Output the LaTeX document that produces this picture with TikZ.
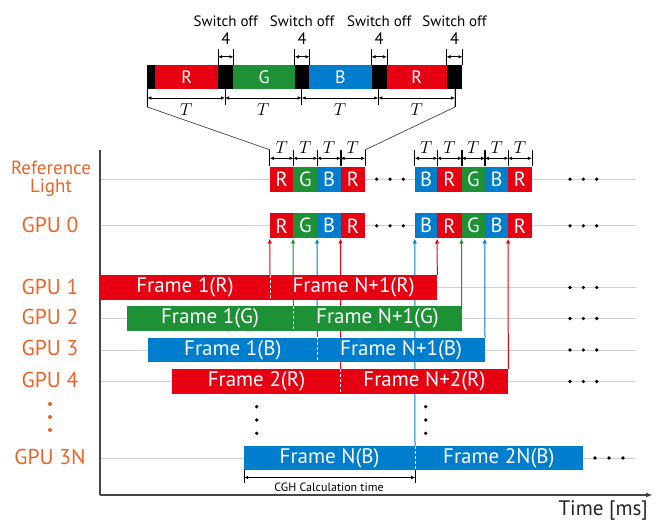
\documentclass[tikz,border=0pt]{standalone}
\usepackage{fontspec}
\setmainfont{PT Sans}
\usetikzlibrary{arrows.meta,calc}
\definecolor{cR}{RGB}{230,0,18}
\definecolor{cG}{RGB}{30,145,55}
\definecolor{cB}{RGB}{0,125,205}
\definecolor{cO}{RGB}{232,100,40}
\definecolor{cGray}{RGB}{208,208,208}
\definecolor{cAx}{RGB}{70,70,70}
\tikzset{
 lbl/.style={text=cO, font=\fontsize{21.5}{23}\selectfont, inner sep=0},
 fbar/.style={font=\fontsize{21}{23}\selectfont},
 fstrip/.style={font=\fontsize{18}{20}\selectfont},
 fcell/.style={font=\fontsize{20.5}{22}\selectfont},
 fsw/.style={font=\fontsize{15}{17}\selectfont, inner sep=0},
 ffour/.style={font=\fontsize{16.5}{18}\selectfont, inner sep=0},
 ft/.style={font=\fontsize{16}{18}\selectfont, inner sep=0},
 cell/.style={text=white, inner sep=0},
 gridl/.style={draw=cGray, line width=0.8pt},
 dimarr/.style={{Latex[length=4pt,width=3.5pt]}-{Latex[length=4pt,width=3.5pt]}, line width=0.7pt},
 tickl/.style={line width=0.7pt},
 uparr/.style={-{Latex[length=5pt,width=4.5pt]}, line width=1pt},
 divd/.style={white, dash pattern=on 3pt off 2pt, line width=1pt},
 dotn/.style={fill=black, circle, inner sep=0, minimum size=3.6pt},
 odot/.style={fill=cO, circle, inner sep=0, minimum size=4pt},
}
\newcommand\cellbox[8]{\node[cell, fill=#6, #7, minimum width={#3pt-#2pt}, minimum height={#5pt-#4pt}] (#1) at ({(#2+#3)/2},{(#4+#5)/2}) {#8};}
\begin{document}
\begin{tikzpicture}[x=1pt,y=-1pt]
\useasboundingbox (0,0) rectangle (659,521);
% grid lines
\foreach \yy/\nm in {179.2/gr0,225.8/gr1,287.5/gr2,318.5/gr3,350/gr4,381.5/gr5,458/gr6}{
  \coordinate (\nm a) at (100,\yy); \coordinate (\nm b) at (636,\yy);
  \draw[gridl] (\nm a) -- (\nm b);
}
% axes
\coordinate (ax0) at (100,150);
\coordinate (ax1) at (100,495);
\coordinate (ax2) at (653,495);
\draw[cAx, line width=1.4pt] (ax0) -- (ax1);
\draw[cAx, line width=1.4pt, -{Latex[length=7pt,width=5pt]}] (ax1) -- (ax2);
\node[anchor=base east, font=\fontsize{21}{23}\selectfont, text=black!85, inner sep=0] (tlab) at (648,515.5) {Time [ms]};
% top strip
\cellbox{s0}{147.3}{155}{65}{89}{black}{fstrip}{}
\cellbox{s1}{155}{218.3}{65}{89}{cR}{fstrip}{R}
\cellbox{k1}{218.3}{233.3}{65}{89}{black}{fstrip}{}
\cellbox{s2}{233.3}{295}{65}{89}{cG}{fstrip}{G}
\cellbox{k2}{295}{309.3}{65}{89}{black}{fstrip}{}
\cellbox{s3}{309.3}{371.7}{65}{89}{cB}{fstrip}{B}
\cellbox{k3}{371.7}{386.7}{65}{89}{black}{fstrip}{}
\cellbox{s4}{386.7}{446.7}{65}{89}{cR}{fstrip}{R}
\cellbox{k4}{446.7}{462.3}{65}{89}{black}{fstrip}{}
\foreach \k in {k1,k2,k3,k4}{
  \draw[tickl] (\k.north west) -- ++(0,-16);
  \draw[tickl] (\k.north east) -- ++(0,-16);
  \draw[dimarr] ([yshift=8pt]\k.north west) -- ([yshift=8pt]\k.north east);
  \node[ffour] (four\k) at ([yshift=26pt]\k.north) {4};
  \node[fsw] (sw\k) at ([yshift=44pt]\k.north) {Switch off};
}
% top T dims
\coordinate (ta) at (147.3,89);
\coordinate (tb) at (225,89);
\coordinate (tc) at (301.7,89);
\coordinate (td) at (378.3,89);
\coordinate (te) at (455,89);
\foreach \c in {tb,tc,td}{\draw[tickl] (\c) -- ++(0,16);}
\foreach \a/\b in {ta/tb,tb/tc,tc/td,td/te}{
  \draw[dimarr] ($(\a)+(0,9)$) -- ($(\b)+(0,9)$);
  \node[ft] (T\a) at ($(\a)!0.5!(\b)+(0,21)$) {$T$};
}
% reference light boxes
\cellbox{ra}{270}{293.3}{166.7}{191.7}{cR}{fcell}{R}
\cellbox{rb}{293.3}{317.3}{166.7}{191.7}{cG}{fcell}{G}
\cellbox{rc}{317.3}{340.7}{166.7}{191.7}{cB}{fcell}{B}
\cellbox{rd}{340.7}{365}{166.7}{191.7}{cR}{fcell}{R}
\cellbox{re}{415}{437.3}{166.7}{191.7}{cB}{fcell}{B}
\cellbox{rf}{437.3}{461.7}{166.7}{191.7}{cR}{fcell}{R}
\cellbox{rg}{461.7}{485}{166.7}{191.7}{cG}{fcell}{G}
\cellbox{rh}{485}{508.3}{166.7}{191.7}{cB}{fcell}{B}
\cellbox{ri}{508.3}{531.7}{166.7}{191.7}{cR}{fcell}{R}
% zoom lines
\draw[cAx, line width=0.7pt] (ta) -- ++(0,18) -- ([yshift=16.7pt]ra.north west);
\draw[cAx, line width=0.7pt] (te) -- ++(0,18) -- ([yshift=16.7pt]rd.north east);
\draw[tickl] (ta) -- ++(0,18);
\draw[tickl] (te) -- ++(0,18);
\foreach \n in {ra,rb,rc,rd,re,rf,rg,rh,ri}{
  \draw[tickl] (\n.north west) -- ++(0,-16.7);
  \draw[tickl] (\n.north east) -- ++(0,-16.7);
  \draw[dimarr] ([yshift=8.2pt]\n.north west) -- ([yshift=8.2pt]\n.north east);
  \node[ft] (t\n) at ([yshift=19pt]\n.north) {$T$};
}
% GPU 0 boxes
\cellbox{ga}{270}{293.3}{213.3}{238.3}{cR}{fcell}{R}
\cellbox{gb}{293.3}{317.3}{213.3}{238.3}{cG}{fcell}{G}
\cellbox{gc}{317.3}{340.7}{213.3}{238.3}{cB}{fcell}{B}
\cellbox{gd}{340.7}{365}{213.3}{238.3}{cR}{fcell}{R}
\cellbox{ge}{415}{437.3}{213.3}{238.3}{cB}{fcell}{B}
\cellbox{gf}{437.3}{461.7}{213.3}{238.3}{cR}{fcell}{R}
\cellbox{gg}{461.7}{485}{213.3}{238.3}{cG}{fcell}{G}
\cellbox{gh}{485}{508.3}{213.3}{238.3}{cB}{fcell}{B}
\cellbox{gi}{508.3}{531.7}{213.3}{238.3}{cR}{fcell}{R}
% dots
\foreach \yy/\nm in {179.2/a,225.8/b}{
  \foreach \xx/\m in {376.7/1,390/2,403.3/3}{\node[dotn] (md\nm\m) at (\xx,\yy) {};}
}
\foreach \yy/\nm in {179.2/a,225.8/b,287.5/c,318.5/d,350/e,381.5/f}{
  \foreach \xx/\m in {570/1,583.3/2,596.7/3}{\node[dotn] (rd\nm\m) at (\xx,\yy) {};}
}
\foreach \xx/\m in {595/1,609/2,623/3}{\node[dotn] (rdg\m) at (\xx,458) {};}
\foreach \yy/\m in {406.7/1,420/2,433.3/3}{
  \node[dotn] (vl\m) at (256.7,\yy) {};
  \node[dotn] (vr\m) at (425.7,\yy) {};
}
% frame positions (coordinates for arrows, bars drawn afterwards on top)
\coordinate (c1) at (270,275);
\coordinate (c2) at (293.3,306);
\coordinate (c3) at (317.3,337.7);
\coordinate (c4) at (340.7,369);
\coordinate (c5) at (415,446);
\coordinate (c6) at (437.3,275);
\coordinate (c7) at (461.7,306);
\coordinate (c8) at (485,337.7);
\coordinate (c9) at (508.3,369);
% arrows to GPU 0 (behind the bars)
\draw[uparr, cR] (c1) -- (ga.south west);
\draw[uparr, cG] (c2) -- (gb.south west);
\draw[uparr, cB] (c3) -- (gc.south west);
\draw[uparr, cR] (c4) -- (gd.south west);
\draw[uparr, cB] (c5) -- (ge.south west);
\draw[uparr, cR] (c6) -- (gf.south west);
\draw[uparr, cG] (c7) -- (gg.south west);
\draw[uparr, cB] (c8) -- (gh.south west);
\draw[uparr, cR] (c9) -- (gi.south west);
% bars
\cellbox{f1a}{100}{270}{275}{300}{cR}{fbar}{Frame 1(R)}
\cellbox{f1b}{270}{437.3}{275}{300}{cR}{fbar}{Frame N+1(R)}
\cellbox{f2a}{126.7}{293.3}{306}{331}{cG}{fbar}{Frame 1(G)}
\cellbox{f2b}{293.3}{461.7}{306}{331}{cG}{fbar}{Frame N+1(G)}
\cellbox{f3a}{148.3}{317.3}{337.7}{362.3}{cB}{fbar}{Frame 1(B)}
\cellbox{f3b}{317.3}{485}{337.7}{362.3}{cB}{fbar}{Frame N+1(B)}
\cellbox{f4a}{172.3}{340.7}{369}{394}{cR}{fbar}{Frame 2(R)}
\cellbox{f4b}{340.7}{508.3}{369}{394}{cR}{fbar}{Frame N+2(R)}
\cellbox{fna}{244.3}{415}{446}{470}{cB}{fbar}{Frame N(B)}
\cellbox{fnb}{415}{582.7}{446}{470}{cB}{fbar}{Frame 2N(B)}
\foreach \f in {f1a,f2a,f3a,f4a,fna}{\draw[divd] (\f.north east) -- (\f.south east);}
% CGH calculation time
\draw[tickl] (fna.south west) -- ++(0,13);
\draw[tickl] (fna.south east) -- ++(0,13);
\draw[dimarr] ([yshift=-7.3pt]fna.south west) -- ([yshift=-7.3pt]fna.south east);
\node[font=\fontsize{12}{14}\selectfont, inner sep=0] (cgh) at (329,487) {CGH Calculation time};
% left labels
\node[lbl, align=center, font=\fontsize{19}{18}\selectfont] (lref) at (51,179) {Reference\\Light};
\node[lbl] (l0) at (50,225) {GPU 0};
\node[lbl] (l1) at (50,287) {GPU 1};
\node[lbl] (l2) at (50,317) {GPU 2};
\node[lbl] (l3) at (50,348) {GPU 3};
\node[lbl] (l4) at (50,380) {GPU 4};
\node[odot] (od1) at (50,404) {};
\node[odot] (od2) at (50,417) {};
\node[odot] (od3) at (50,430) {};
\node[lbl] (l3n) at (50,457) {GPU 3N};
\end{tikzpicture}
\end{document}
